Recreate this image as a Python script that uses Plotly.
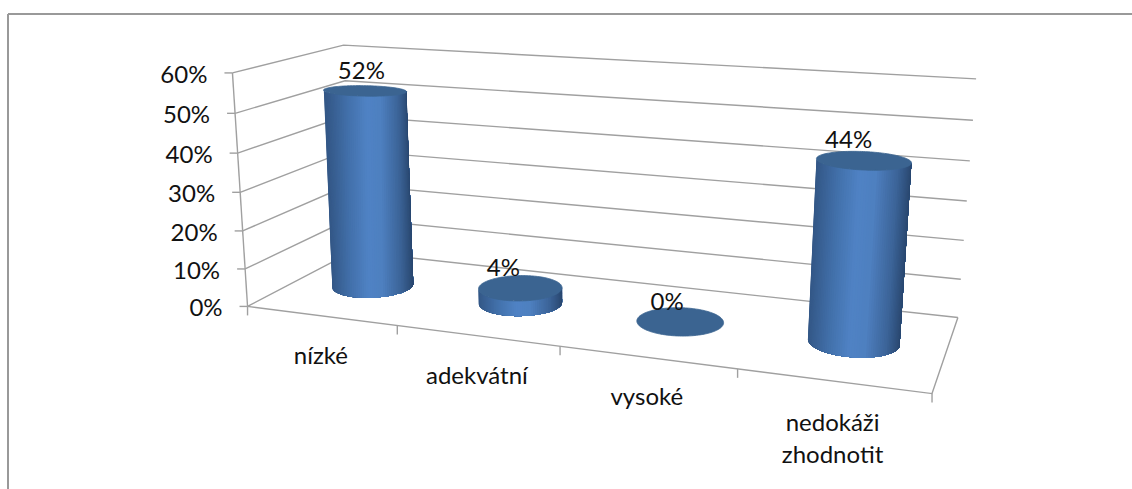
import numpy as np
import plotly.graph_objects as go

categories = ["nízké", "adekvátní", "vysoké", "nedokáži<br>zhodnotit"]
values = [52, 4, 0, 44]
value_labels = ["52%", "4%", "0%", "44%"]
z_ticks = [0, 10, 20, 30, 40, 50, 60]
z_tick_labels = ["0%", "10%", "20%", "30%", "40%", "50%", "60%"]

W, H = 1132, 489
FONT = "Lato"
FONT_SIZE = 24
GRID = "#a0a0a0"
TOP = "#3b6491"
RX, RY = 0.25, 0.20
TOP_RX_SCALE = [1.07, 1.0, 1.0, 1.0]
TOP_RY_SCALE = [0.72, 1.0, 1.0, 0.93]
TOP_Y_SHIFT = [0.06, 0.0, 0.0, 0.0]
TOP_X_SHIFT = [-0.045, 0.0, 0.0, 0.0]
LABEL_OFFSET = [(-4, -20), (-17, -18), (-13, -17), (-15, -19)]
STOPS_T = [0.0, 0.22, 0.45, 0.62, 0.85, 1.0]
STOPS_C = [(52, 88, 135), (66, 112, 170), (80, 131, 197), (78, 128, 192), (60, 100, 152), (42, 72, 112)]

# Camera calibration: box corners (category, depth, value) -> screen position
calib_world = [(0, 0, 0), (0, 0, 60), (0, 1, 60), (0, 1, 0), (4, 1, 60), (4, 1, 0), (4, 0, 0)]
calib_screen = [(248, 306), (232, 73), (344, 45), (352, 252), (976, 79), (958, 317), (932, 394)]
A, b = [], []
for (X, Y, Z), (u, v) in zip(calib_world, calib_screen):
    A.append([X, Y, Z, 1, 0, 0, 0, 0, -u * X, -u * Y, -u * Z])
    A.append([0, 0, 0, 0, X, Y, Z, 1, -v * X, -v * Y, -v * Z])
    b += [u, v]
p = np.linalg.lstsq(np.array(A, float), np.array(b, float), rcond=None)[0]
P = np.append(p, 1.0).reshape(3, 4)


def proj(X, Y, Z):
    h = P @ np.array([X, Y, Z, 1.0])
    return h[0] / h[2], h[1] / h[2]


def color(t):
    t = min(max(t, 0), 1)
    ch = [np.interp(t, STOPS_T, [c[i] for c in STOPS_C]) for i in range(3)]
    return "rgb(%d,%d,%d)" % tuple(ch)


fig = go.Figure()


def line(pts, c=GRID, w=1.4):
    fig.add_trace(go.Scatter(x=[q[0] for q in pts], y=[q[1] for q in pts], mode="lines",
                             line=dict(color=c, width=w), hoverinfo="skip"))


def text(x, y, s, pos="middle center"):
    fig.add_trace(go.Scatter(x=[x], y=[y], mode="text", text=[s], textposition=pos,
                             textfont=dict(family=FONT, size=FONT_SIZE, color="#111111"), hoverinfo="skip"))


# Walls and floor
for z in z_ticks:
    a, c, d = proj(0, 0, z), proj(0, 1, z), proj(4, 1, z)
    line([a, c, d])
    line([(a[0] - 8, a[1]), a])
line([proj(0, 0, 0), proj(0, 0, 60)])
line([proj(0, 0, 0), proj(4, 0, 0), proj(4, 1, 0)])
for i in range(5):
    q = proj(i, 0, 0)
    line([q, (q[0], q[1] + 9)])

# Cylinders
N = 160
th = np.linspace(0, 2 * np.pi, N + 1)
for i, v in enumerate(values):
    cx, cy = i + 0.5, 0.5
    base = lambda a: proj(cx + RX * np.cos(a), cy + RY * np.sin(a), 0)
    cap = lambda a: proj(cx + TOP_X_SHIFT[i] + RX * TOP_RX_SCALE[i] * np.cos(a),
                         cy + TOP_Y_SHIFT[i] + RY * TOP_RY_SCALE[i] * np.sin(a), v)
    if v > 0:
        xs = [base(a)[0] for a in th]
        left, right = min(xs), max(xs)
        a_left, a_right = th[int(np.argmin(xs))], th[int(np.argmax(xs))]
        a_end = a_right + 2 * np.pi if a_right < a_left else a_right
        angs = np.linspace(a_left, a_end, 61)
        for k in range(60):
            # painter's order: each strip runs to the right silhouette, so no seams appear
            m = base((angs[k] + angs[k + 1]) / 2)
            c = color((m[0] - left) / (right - left))
            arc = angs[k:]
            bx = [base(a) for a in arc]
            tx = [cap(a) for a in arc]
            poly = bx + tx[::-1] + [bx[0]]
            fig.add_trace(go.Scatter(x=[e[0] for e in poly], y=[e[1] for e in poly], mode="lines",
                                     fill="toself", fillcolor=c, line=dict(width=0, simplify=False),
                                     hoverinfo="skip"))
    top = [cap(a) for a in th]
    fig.add_trace(go.Scatter(x=[e[0] for e in top], y=[e[1] for e in top], mode="lines", fill="toself",
                             fillcolor=TOP, line=dict(color=TOP, width=0.8, simplify=False), hoverinfo="skip"))

# Text
for z, s in zip(z_ticks, z_tick_labels):
    q = proj(0, 0, z)
    text(q[0] - 25, q[1] + 4, s, pos="middle left")
for i, s in enumerate(categories):
    q = proj(i + 0.5, 0, 0)
    text(q[0], q[1] + (60 if i == 3 else 42), s)
for i, s in enumerate(value_labels):
    q = proj(i + 0.5, 0.5, values[i])
    text(q[0] + LABEL_OFFSET[i][0], q[1] + LABEL_OFFSET[i][1], s)

fig.update_layout(
    width=W, height=H, margin=dict(l=0, r=0, t=0, b=0), showlegend=False,
    paper_bgcolor="white", plot_bgcolor="white",
    xaxis=dict(range=[0, W], visible=False, fixedrange=True),
    yaxis=dict(range=[H, 0], visible=False, fixedrange=True),
    shapes=[
        dict(type="line", xref="x", yref="y", x0=8, y0=14, x1=W, y1=14, line=dict(color="#999999", width=2)),
        dict(type="line", xref="x", yref="y", x0=8, y0=14, x1=8, y1=H, line=dict(color="#999999", width=2)),
    ],
)
fig.write_html("out.html", config=dict(displayModeBar=False),
               post_script="document.body.style.margin='0';document.body.style.overflow='hidden';")
